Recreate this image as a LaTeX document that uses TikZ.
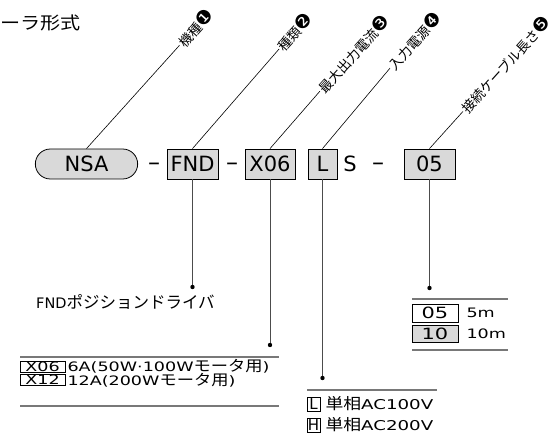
\documentclass[tikz,border=0pt]{standalone}
\usepackage{fontspec}
\setmainfont{Noto Sans CJK JP}
\newfontfamily\jpw{Noto Sans CJK JP}[FakeStretch=1.15]
\newfontfamily\lat{DejaVu Sans}
\newfontfamily\latw{DejaVu Sans}[FakeStretch=1.35]
\newfontfamily\numfont{DejaVu Sans}
\newcommand{\jpt}[2]{{\jpw\fontsize{#1}{#1}\selectfont #2}}
\newcommand{\badge}[1]{{\numfont\fontsize{19}{19}\selectfont #1}}
\usetikzlibrary{shapes.misc, calc}
\definecolor{codegray}{RGB}{217,217,217}
\definecolor{rulegray}{RGB}{120,120,120}

\begin{document}
\begin{tikzpicture}[x=1pt, y=-1pt]
%Declaration of styles
	\tikzstyle{code} = [rectangle, draw=black, fill=codegray, line width=0.8pt, minimum height=30pt, inner sep=0pt, font=\lat\fontsize{21}{21}\selectfont] %style for the code boxes
	\tikzstyle{pill} = [rounded rectangle, draw=black, fill=codegray, line width=0.8pt, minimum height=30pt, minimum width=109pt, font=\lat\fontsize{21}{21}\selectfont] %style for the series
	\tikzstyle{sepmark} = [anchor=base, inner sep=0pt, font=\lat\fontsize{24}{24}\selectfont] %style for the separators
	\tikzstyle{tag} = [rotate=48, anchor=west, inner sep=1pt, font=\fontsize{13.5}{13.5}\selectfont] %style for the item labels
	\tikzstyle{leader} = [black, line width=0.6pt]
	\tikzstyle{stem} = [draw=black!70, line width=0.9pt]
	\tikzstyle{rule} = [draw=rulegray, line width=1.5pt]
	\tikzstyle{key} = [rectangle, draw=black, line width=0.6pt, inner sep=0pt, font=\latw\fontsize{13}{13}\selectfont]
	\tikzstyle{val} = [anchor=west, inner sep=0pt, font=\latw\fontsize{13}{13}\selectfont]
	\useasboundingbox (0,0) rectangle (550,438);
%Title
	\node [anchor=west, inner sep=0pt] (title) at (0,22.5) {\jpt{17.5}{ーラ形式}};
%Model code
	\node [pill] (nsa) at (86.5,164) {NSA};
	\node [sepmark] (d1) at (154,171) {–};
	\node [code, minimum width=51pt] (fnd) at (192.5,164) {FND};
	\node [sepmark] (d2) at (232,171) {–};
	\node [code, minimum width=50pt] (x06) at (270,164) {X06};
	\node [code, minimum width=29pt] (pwr) at (322.5,164) {L};
	\node [sepmark, font=\lat\fontsize{21}{21}\selectfont] (s) at (350,172) {S};
	\node [sepmark] (d3) at (378,171) {–};
	\node [code, minimum width=51pt] (len) at (429.5,164) {05};
%Item labels
	\path (nsa.north) ++(-48:139) node [tag] (t1) {機種\badge{❶}};
	\path (fnd.north) ++(-49:132) node [tag] (t2) {種類\badge{❷}};
	\path (x06.north) ++(-49:76) node [tag] (t3) {最大出力電流\badge{❸}};
	\path (pwr.north) ++(-50:105) node [tag] (t4) {入力電源\badge{❹}};
	\path (len.north) ++(-48:50) node [tag] (t5) {接続ケーブル長さ\badge{❺}};
	\draw [leader] (nsa.north) -- (t1.west);
	\draw [leader] (fnd.north) -- (t2.west);
	\draw [leader] (x06.north) -- (t3.west);
	\draw [leader] (pwr.north) -- (t4.west);
	\draw [leader] (len.north) -- (t5.west);
%Type
	\coordinate (fndend) at (192.5,287);
	\draw [stem] (fnd.south) -- (fndend);
	\fill (fndend) circle (2.2);
	\node [anchor=west, inner sep=0pt, font=\fontsize{16.5}{16.5}\selectfont] (fnddesc) at (36,302) {{\lat\fontsize{14.5}{14.5}\selectfont FND}ポジションドライバ};
%Maximum output current
	\coordinate (x06end) at (270,345);
	\draw [stem] (x06.south) -- (x06end);
	\fill (x06end) circle (2.2);
	\draw [rule] (20,357) -- (279,357);
	\draw [rule] (20,406) -- (279,406);
	\node [key, minimum width=45pt, minimum height=11.5pt] (k06) at (42.5,366.7) {X06};
	\node [key, minimum width=45pt, minimum height=11.5pt] (k12) at (42.5,380) {X12};
	\node [val] (v06) at ([xshift=2pt]k06.east) {6A(50W·100W\jpt{15}{モータ用})};
	\node [val] (v12) at ([xshift=2pt]k12.east) {12A(200W\jpt{15}{モータ用})};
%Input power
	\coordinate (pwrend) at (322.5,378);
	\draw [stem] (pwr.south) -- (pwrend);
	\fill (pwrend) circle (2.2);
	\draw [rule] (307,390) -- (437,390);
	\node [key, minimum width=13pt, minimum height=14pt, font=\lat\fontsize{15}{15}\selectfont] (kl) at (313.5,404) {L};
	\node [key, minimum width=13pt, minimum height=14pt, font=\lat\fontsize{15}{15}\selectfont] (kh) at (313.5,425) {H};
	\node [val, font=\latw\fontsize{13.5}{13.5}\selectfont] (vl) at ([xshift=5pt]kl.east) {\jpt{15.5}{単相}AC100V};
	\node [val, font=\latw\fontsize{13.5}{13.5}\selectfont] (vh) at ([xshift=5pt]kh.east) {\jpt{15.5}{単相}AC200V};
%Cable length
	\coordinate (lenend) at (429.5,288);
	\draw [stem] (len.south) -- (lenend);
	\fill (lenend) circle (2.2);
	\draw [rule] (412,299) -- (508,299);
	\draw [rule] (412,350) -- (508,350);
	\node [key, fill=white, minimum width=46pt, minimum height=18pt, font=\latw\fontsize{15.5}{15.5}\selectfont] (k05) at (435,313) {05};
	\node [key, fill=codegray, minimum width=46pt, minimum height=17pt, font=\latw\fontsize{15.5}{15.5}\selectfont] (k10) at (435,333.4) {10};
	\node [val] (v05) at ([xshift=8pt]k05.east) {5m};
	\node [val] (v10) at ([xshift=8pt]k10.east) {10m};
\end{tikzpicture}
\end{document}
